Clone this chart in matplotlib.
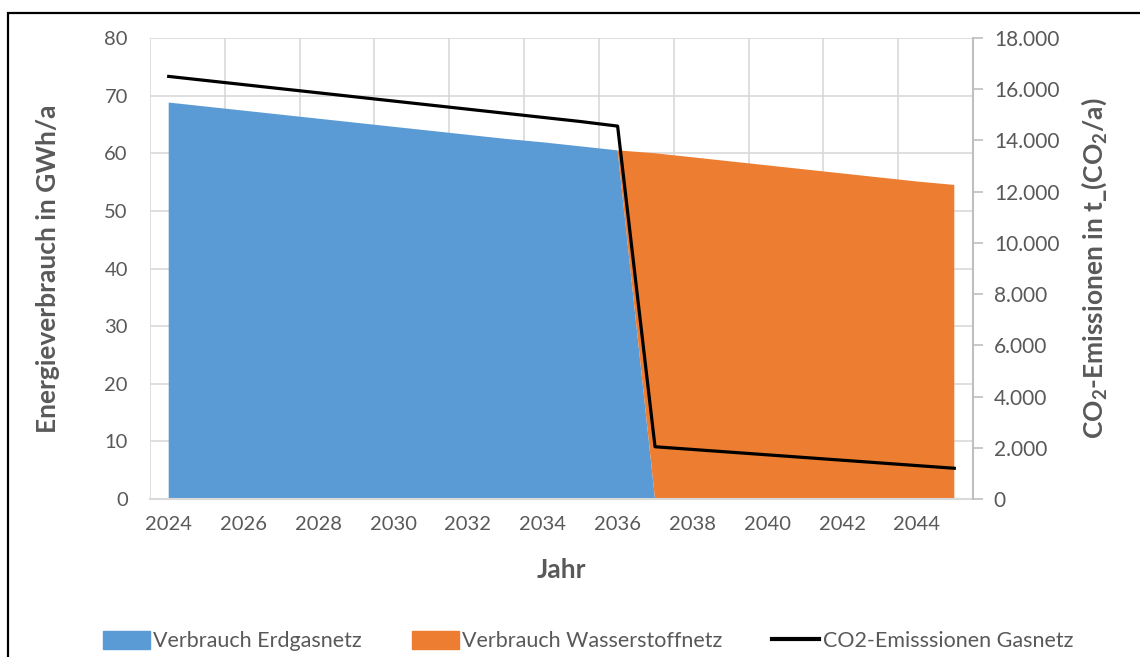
import matplotlib
matplotlib.use('Agg')
import matplotlib.pyplot as plt
from matplotlib.patches import Rectangle, Patch
from matplotlib.lines import Line2D
import numpy as np

plt.rcParams['font.family'] = ['Lato', 'DejaVu Sans']
plt.rcParams['mathtext.fontset'] = 'custom'
plt.rcParams['mathtext.rm'] = 'Lato'
plt.rcParams['mathtext.bf'] = 'Lato:bold'

#data
jahre = list(range(2024, 2046))
erdgas = [68.8, 68.1, 67.4, 66.7, 66.0, 65.3, 64.6, 63.9, 63.2, 62.5, 61.9, 61.2, 60.5,
          0, 0, 0, 0, 0, 0, 0, 0, 0]
wasserstoff = [0, 0, 0, 0, 0, 0, 0, 0, 0, 0, 0, 0, 0,
               60.0, 59.3, 58.6, 57.9, 57.2, 56.5, 55.8, 55.1, 54.5]
co2 = [16500, 16340, 16180, 16020, 15860, 15700, 15540, 15380, 15220, 15060, 14900, 14740, 14560,
       2040, 1935, 1830, 1725, 1620, 1515, 1410, 1305, 1200]

grau = '#595959'
gitter = '#d9d9d9'
blau = '#5B9BD5'
orange = '#ED7D31'

fig = plt.figure(figsize=(11.4, 6.57), dpi=100)
ax = fig.add_axes([150/1140, 1-499/657, 823/1140, 461/657])
ax2 = ax.twinx()

ax.stackplot(jahre, erdgas, wasserstoff, colors=[blau, orange], lw=0, zorder=2)
ax2.plot(jahre, co2, color='black', lw=2.3, zorder=3)

ax.set_xlim(2023.5, 2045.5)
ax.set_ylim(0, 80)
ax2.set_ylim(0, 18000)

# grid
ax.set_yticks(range(0, 81, 10))
ax.set_xticks(range(2024, 2045, 2))
ax.set_xticks(np.arange(2023.5, 2046, 2), minor=True)
ax.grid(False)
ax.yaxis.grid(True, color=gitter, lw=1.2, zorder=0)
ax.xaxis.grid(True, which='minor', color=gitter, lw=1.2, zorder=0)
ax.set_axisbelow(True)

for s in ['top', 'left', 'right']:
    ax.spines[s].set_visible(False)
for s in ['top', 'left', 'bottom']:
    ax2.spines[s].set_visible(False)
ax.spines['bottom'].set_color(gitter)
ax.spines['bottom'].set_linewidth(1.5)
ax2.spines['right'].set_color('#bfbfbf')
ax2.spines['right'].set_linewidth(1.5)

ax.tick_params(axis='y', length=0, pad=16, labelsize=14.5, labelcolor=grau)
ax.tick_params(axis='x', which='both', length=0, pad=12, labelsize=14.5, labelcolor=grau)
ax2.set_yticks(range(0, 18001, 2000))
ax2.set_yticklabels(['0'] + ['{:,}'.format(v).replace(',', '.') for v in range(2000, 18001, 2000)])
ax2.tick_params(axis='y', length=7, width=1.2, color='#bfbfbf', pad=8, labelsize=15, labelcolor=grau)

ax.set_xlabel('Jahr', fontsize=19, fontweight='bold', color=grau, labelpad=18)
ax.set_ylabel('Energieverbrauch in GWh/a', fontsize=19, fontweight='bold', color=grau, labelpad=32)
ax2.set_ylabel(r'CO$_\mathbf{2}$-Emissionen in t_(CO$_\mathbf{2}$/a)', fontsize=19,
               fontweight='bold', color=grau, labelpad=14)

# legend
handles = [Patch(color=blau), Patch(color=orange), Line2D([], [], color='black', lw=3)]
labels = ['Verbrauch Erdgasnetz', 'Verbrauch Wasserstoffnetz', 'CO2-Emisssionen Gasnetz']
leg = fig.legend(handles, labels, ncol=3, loc='center', bbox_to_anchor=(588/1140, 1-641/657),
                 frameon=False, fontsize=15.5, handlelength=2.2, handleheight=0.9,
                 handletextpad=0.15, columnspacing=2.3)
for t in leg.get_texts():
    t.set_color(grau)

# black frame
fig.add_artist(Rectangle((8/1140, -0.05), 1.2, 1.05-13/657, transform=fig.transFigure,
                         fill=False, ec='black', lw=1.6))

fig.savefig('out.png', dpi=100)
